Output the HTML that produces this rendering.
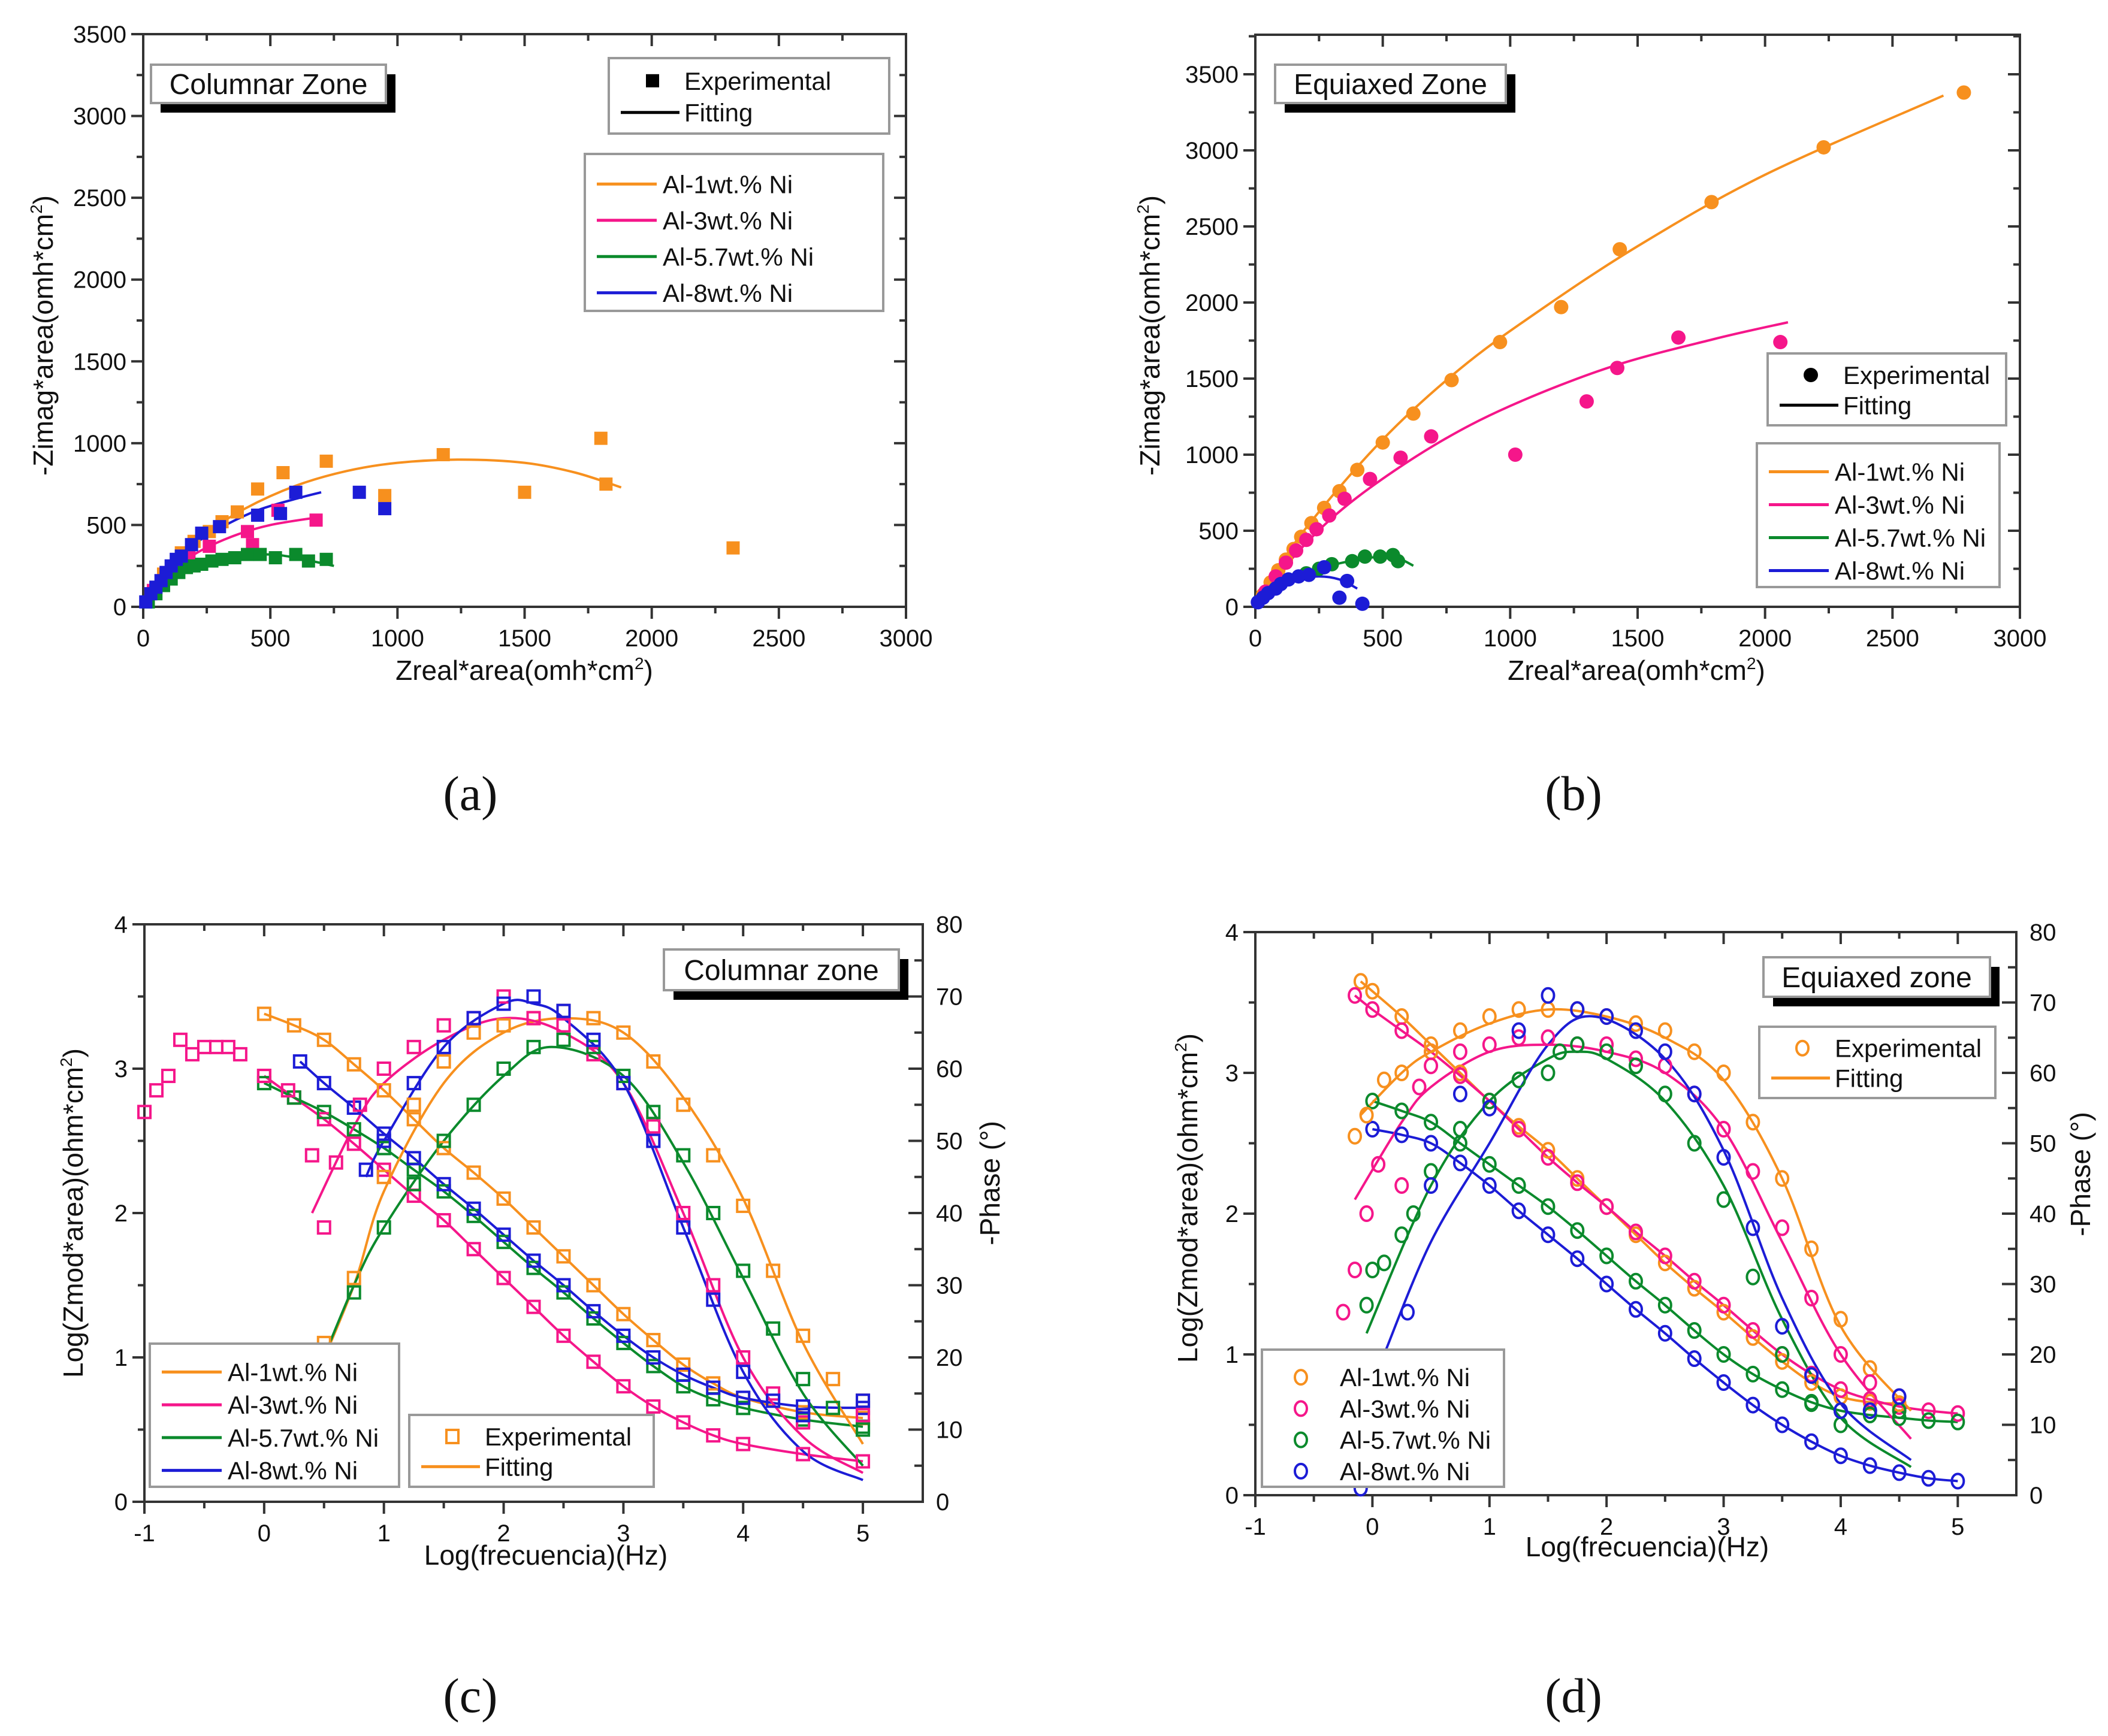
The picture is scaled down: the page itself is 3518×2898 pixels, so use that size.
<!DOCTYPE html>
<html><head><meta charset="utf-8"><title>EIS charts</title>
<style>
html,body{margin:0;padding:0;background:#fff;}
svg{display:block;}
text{font-family:"Liberation Sans",sans-serif;fill:#111;}
.cap{font-family:"Liberation Serif",serif;font-size:82px;}
</style></head>
<body>
<svg id="fig" width="3518" height="2898" viewBox="0 0 3518 2898" xmlns="http://www.w3.org/2000/svg">
<rect x="0" y="0" width="3518" height="2898" fill="#fff"/>
<g id="root"></g>
<text class="cap" x="785" y="1352" text-anchor="middle">(a)</text>
<text class="cap" x="2626" y="1352" text-anchor="middle">(b)</text>
<text class="cap" x="785" y="2858" text-anchor="middle">(c)</text>
<text class="cap" x="2626" y="2858" text-anchor="middle">(d)</text>
</svg>
<script>
const NS="http://www.w3.org/2000/svg";
const COLORS={o:"#f7901e",p:"#f5168a",g:"#0b8a2c",b:"#1c1cd6"};
const seriesNames=["Al-1wt.% Ni","Al-3wt.% Ni","Al-5.7wt.% Ni","Al-8wt.% Ni"];

// ---- Panel A (Nyquist, columnar) ----
const aOrangeExp=[[30,80],[80,200],[150,330],[200,400],[260,460],[310,520],[370,580],[450,720],[550,820],[720,890],[950,680],[1180,930],[1500,700],[1800,1030],[1820,750],[2320,360]];
const aOrangeFit=[[0,0],[100,250],[250,450],[400,600],[600,740],[800,830],[1000,880],[1250,900],[1500,880],[1700,820],[1880,730]];
const aPinkExp=[[40,100],[100,200],[180,300],[260,370],[410,460],[430,380],[530,590],[680,530]];
const aPinkFit=[[0,0],[100,200],[200,320],[350,430],[500,500],[700,550]];
const aGreenExp=[[20,30],[50,80],[80,130],[110,170],[140,210],[170,240],[200,250],[230,260],[270,280],[310,290],[360,300],[410,320],[460,320],[520,300],[600,320],[650,280],[720,290]];
const aGreenFit=[[20,0],[80,130],[150,210],[250,270],[400,310],[500,320],[600,300],[750,250]];
const aBlueExp=[[10,30],[30,80],[50,120],[70,160],[90,210],[110,250],[130,290],[150,310],[190,380],[230,450],[300,490],[450,560],[540,570],[600,700],[850,700],[950,600]];
const aBlueFit=[[0,0],[50,130],[100,230],[200,380],[300,480],[450,590],[600,660],[700,700]];
const aXTicks=[0,500,1000,1500,2000,2500,3000];
const aYTicks=[0,500,1000,1500,2000,2500,3000,3500];

// ---- Panel B (Nyquist, equiaxed) ----
const bOrangeExp=[[30,80],[60,160],[90,240],[120,310],[150,380],[180,460],[220,550],[270,650],[330,760],[400,900],[500,1080],[620,1270],[770,1490],[960,1740],[1200,1970],[1430,2350],[1790,2660],[2230,3020],[2780,3380]];
const bOrangeFit=[[0,30],[200,520],[500,1100],[800,1560],[1100,1930],[1500,2370],[2000,2840],[2700,3360]];
const bPinkExp=[[40,100],[80,200],[120,290],[160,370],[200,440],[240,510],[290,600],[350,710],[450,840],[570,980],[690,1120],[1020,1000],[1300,1350],[1420,1570],[1660,1770],[2060,1740]];
const bPinkFit=[[0,30],[200,420],[400,720],[700,1060],[1000,1320],[1400,1580],[1800,1760],[2090,1870]];
const bGreenExp=[[200,220],[250,250],[300,280],[380,300],[430,330],[490,330],[540,340],[560,300]];
const bGreenFit=[[100,150],[250,250],[400,310],[500,330],[560,320],[620,270]];
const bBlueExp=[[10,30],[30,60],[50,90],[80,120],[100,150],[130,180],[170,200],[210,210],[270,260],[360,170],[330,60],[420,20]];
const bBlueFit=[[0,30],[80,120],[150,180],[250,200],[330,180],[400,120]];
const bXTicks=[0,500,1000,1500,2000,2500,3000];
const bYTicks=[0,500,1000,1500,2000,2500,3000,3500];

// ---- Panel C (Bode, columnar) ----
const cOrangeMod=[[0,3.38],[0.25,3.3],[0.5,3.2],[0.75,3.03],[1,2.85],[1.25,2.65],[1.5,2.45],[1.75,2.28],[2,2.1],[2.25,1.9],[2.5,1.7],[2.75,1.5],[3,1.3],[3.25,1.12],[3.5,0.95],[3.75,0.82],[4,0.72],[4.5,0.62],[5,0.58]];
const cPinkMod=[[0,2.95],[0.25,2.8],[0.5,2.65],[0.75,2.48],[1,2.3],[1.25,2.12],[1.5,1.95],[1.75,1.75],[2,1.55],[2.25,1.35],[2.5,1.15],[2.75,0.97],[3,0.8],[3.25,0.66],[3.5,0.55],[3.75,0.46],[4,0.4],[4.5,0.33],[5,0.28]];
const cGreenMod=[[0,2.9],[0.25,2.8],[0.5,2.7],[0.75,2.58],[1,2.45],[1.25,2.3],[1.5,2.15],[1.75,1.98],[2,1.8],[2.25,1.62],[2.5,1.45],[2.75,1.27],[3,1.1],[3.25,0.94],[3.5,0.8],[3.75,0.71],[4,0.65],[4.5,0.57],[5,0.52]];
const cBlueMod=[[0.3,3.05],[0.5,2.9],[0.75,2.73],[1,2.55],[1.25,2.38],[1.5,2.2],[1.75,2.03],[2,1.85],[2.25,1.67],[2.5,1.5],[2.75,1.32],[3,1.15],[3.25,1.0],[3.5,0.88],[3.75,0.79],[4,0.72],[4.5,0.66],[5,0.65]];
const cOrangePh=[[0.5,22],[0.75,31],[1,45],[1.25,55],[1.5,61],[1.75,65],[2,66],[2.25,67],[2.5,68],[2.75,67],[3,65],[3.25,61],[3.5,55],[3.75,48],[4,41],[4.25,32],[4.5,23],[4.75,17],[5,14]];
const cPinkPh=[[-1,54],[-0.9,57],[-0.8,59],[-0.7,64],[-0.6,62],[-0.5,63],[-0.4,63],[-0.3,63],[-0.2,62],[0,59],[0.2,57],[0.4,48],[0.5,38],[0.6,47],[0.8,55],[1,60],[1.25,63],[1.5,66],[1.75,67],[2,70],[2.25,67],[2.5,66],[2.75,62],[3,58],[3.25,52],[3.5,40],[3.75,30],[4,20],[4.25,15],[4.5,11],[5,12]];
const cGreenPh=[[0.5,20],[0.75,29],[1,38],[1.25,44],[1.5,50],[1.75,55],[2,60],[2.25,63],[2.5,64],[2.75,63],[3,59],[3.25,54],[3.5,48],[3.75,40],[4,32],[4.25,24],[4.5,17],[4.75,13],[5,10]];
const cBluePh=[[0.85,46],[1,50],[1.25,58],[1.5,63],[1.75,67],[2,69],[2.25,70],[2.5,68],[2.75,64],[3,58],[3.25,50],[3.5,38],[3.75,28],[4,18],[4.25,14],[4.5,12],[5,14]];
const cOrangePhFit=[[0.4,16],[0.75,30],[1,43],[1.5,58],[2,65],[2.5,67],[3,65],[3.5,56],[4,42],[4.5,22],[5,8]];
const cPinkPhFit=[[0.4,40],[0.75,52],[1,58],[1.5,64],[2,67],[2.5,65],[3,58],[3.5,40],[4,20],[4.5,9],[5,4]];
const cGreenPhFit=[[0.4,16],[0.75,30],[1,38],[1.5,50],[2,59],[2.4,63],[3,59],[3.5,47],[4,31],[4.5,15],[5,5]];
const cBluePhFit=[[0.85,45],[1,50],[1.5,63],[2,69],[2.25,69],[2.5,67],[3,58],[3.5,38],[4,18],[4.5,7],[5,3]];
const cXTicks=[-1,0,1,2,3,4,5];
const cYTicks=[0,1,2,3,4];
const cY2Ticks=[0,10,20,30,40,50,60,70,80];

// ---- Panel D (Bode, equiaxed) ----
const dOrangeMod=[[-0.1,3.65],[0,3.58],[0.25,3.4],[0.5,3.2],[0.75,3.0],[1,2.8],[1.25,2.62],[1.5,2.45],[1.75,2.25],[2,2.05],[2.25,1.85],[2.5,1.65],[2.75,1.47],[3,1.3],[3.25,1.12],[3.5,0.95],[3.75,0.8],[4,0.7],[4.25,0.66],[4.5,0.65]];
const dPinkMod=[[-0.15,3.55],[0,3.45],[0.25,3.3],[0.5,3.15],[0.75,2.98],[1,2.8],[1.25,2.6],[1.5,2.4],[1.75,2.22],[2,2.05],[2.25,1.87],[2.5,1.7],[2.75,1.52],[3,1.35],[3.25,1.17],[3.5,1.0],[3.75,0.86],[4,0.75],[4.25,0.68],[4.5,0.63],[4.75,0.6],[5,0.58]];
const dGreenMod=[[0,2.8],[0.25,2.73],[0.5,2.65],[0.75,2.5],[1,2.35],[1.25,2.2],[1.5,2.05],[1.75,1.88],[2,1.7],[2.25,1.52],[2.5,1.35],[2.75,1.17],[3,1.0],[3.25,0.86],[3.5,0.75],[3.75,0.66],[4,0.6],[4.25,0.57],[4.5,0.55],[4.75,0.53],[5,0.52]];
const dBlueMod=[[0,2.6],[0.25,2.56],[0.5,2.5],[0.75,2.36],[1,2.2],[1.25,2.02],[1.5,1.85],[1.75,1.68],[2,1.5],[2.25,1.32],[2.5,1.15],[2.75,0.97],[3,0.8],[3.25,0.64],[3.5,0.5],[3.75,0.38],[4,0.28],[4.25,0.21],[4.5,0.16],[4.75,0.12],[5,0.1]];
const dOrangePh=[[-0.15,51],[-0.05,54],[0.1,59],[0.25,60],[0.5,63],[0.75,66],[1,68],[1.25,69],[1.5,69],[1.75,69],[2,68],[2.25,67],[2.5,66],[2.75,63],[3,60],[3.25,53],[3.5,45],[3.75,35],[4,25],[4.25,18],[4.5,13]];
const dPinkPh=[[-0.25,26],[-0.15,32],[-0.05,40],[0.05,47],[0.25,44],[0.4,58],[0.5,61],[0.75,63],[1,64],[1.25,65],[1.5,65],[1.75,64],[2,64],[2.25,62],[2.5,61],[2.75,57],[3,52],[3.25,46],[3.5,38],[3.75,28],[4,20],[4.25,16],[4.5,14]];
const dGreenPh=[[-0.05,27],[0,32],[0.1,33],[0.25,37],[0.35,40],[0.5,46],[0.75,52],[1,56],[1.25,59],[1.5,60],[1.6,63],[1.75,64],[2,63],[2.25,61],[2.5,57],[2.75,50],[3,42],[3.25,31],[3.5,20],[3.75,13],[4,10],[4.5,12]];
const dBluePh=[[-0.1,1],[0.3,26],[0.5,44],[0.75,57],[1,55],[1.25,66],[1.5,71],[1.75,69],[2,68],[2.25,66],[2.5,63],[2.75,57],[3,48],[3.25,38],[3.5,24],[3.75,17],[4,12],[4.25,12],[4.5,14]];
const dOrangePhFit=[[-0.1,54],[0.25,60],[0.5,63],[1,67],[1.5,69],[2,68],[2.5,65],[3,59],[3.5,45],[4,24],[4.6,12]];
const dPinkPhFit=[[-0.15,42],[0.25,53],[0.5,58],[1,63],[1.5,64],[2,63],[2.5,60],[3,52],[3.5,36],[4,20],[4.6,8]];
const dGreenPhFit=[[-0.05,23],[0.5,44],[1,56],[1.5,62],[1.75,63],[2,62],[2.5,56],[3,44],[3.5,25],[4,11],[4.6,4]];
const dBluePhFit=[[0.1,20],[0.5,36],[1,50],[1.5,64],[1.9,68],[2.5,62],[3,49],[3.5,28],[4,13],[4.6,5]];
const dXTicks=[-1,0,1,2,3,4,5];
const dYTicks=[0,1,2,3,4];
const dY2Ticks=[0,10,20,30,40,50,60,70,80];

const root=document.getElementById('root');
function mk(tag,attrs,parent){const e=document.createElementNS(NS,tag);for(const k in attrs)e.setAttribute(k,attrs[k]);(parent||root).appendChild(e);return e;}
function txt(s,attrs,parent){const e=mk('text',attrs,parent);e.textContent=s;return e;}
function smooth(pts){
  if(pts.length<2)return "";
  let d="M"+pts[0][0].toFixed(1)+","+pts[0][1].toFixed(1);
  for(let i=0;i<pts.length-1;i++){
    const p0=pts[Math.max(0,i-1)],p1=pts[i],p2=pts[i+1],p3=pts[Math.min(pts.length-1,i+2)];
    const c1=[p1[0]+(p2[0]-p0[0])/6,p1[1]+(p2[1]-p0[1])/6];
    const c2=[p2[0]-(p3[0]-p1[0])/6,p2[1]-(p3[1]-p1[1])/6];
    d+=" C"+c1[0].toFixed(1)+","+c1[1].toFixed(1)+" "+c2[0].toFixed(1)+","+c2[1].toFixed(1)+" "+p2[0].toFixed(1)+","+p2[1].toFixed(1);
  }
  return d;
}

function makeAxes(cfg){
  const g=mk('g',{});
  
  
  const sx=v=>cfg.x0+(v-cfg.xmin)/(cfg.xmax-cfg.xmin)*(cfg.x1-cfg.x0);
  const sy=v=>cfg.y0-(v-cfg.ymin)/(cfg.ymax-cfg.ymin)*(cfg.y0-cfg.y1);
  const sy2=cfg.y2max?(v=>cfg.y0-v/cfg.y2max*(cfg.y0-cfg.y1)):null;
  const frame=mk('rect',{x:cfg.x0,y:cfg.y1,width:cfg.x1-cfg.x0,height:cfg.y0-cfg.y1,fill:'none',stroke:'#333','stroke-width':4},g);
  
  
  const tk=mk('g',{stroke:'#333','stroke-width':4},g);
  
  
  const xs=cfg.xticks, ys=cfg.yticks;
  const xstep=xs[1]-xs[0], ystep=ys[1]-ys[0];
  for(let i=0;i<xs.length;i++){
    const v=xs[i];const X=sx(v);
    mk('line',{x1:X,y1:cfg.y0,x2:X,y2:cfg.y0+20},tk);
    mk('line',{x1:X,y1:cfg.y1,x2:X,y2:cfg.y1+20},tk);
    const m=v+xstep/2;
    if(m<cfg.xmax){const Xm=sx(m);mk('line',{x1:Xm,y1:cfg.y0,x2:Xm,y2:cfg.y0+11},tk);mk('line',{x1:Xm,y1:cfg.y1,x2:Xm,y2:cfg.y1+11},tk);}
    const t=txt(String(v),{x:X,y:cfg.y0+66,'font-size':40,'text-anchor':'middle'},g);
    
    
  }
  for(let i=0;i<ys.length;i++){
    const v=ys[i];const Y=sy(v);
    mk('line',{x1:cfg.x0,y1:Y,x2:cfg.x0-20,y2:Y},tk);
    if(!cfg.y2max)mk('line',{x1:cfg.x1,y1:Y,x2:cfg.x1-20,y2:Y},tk);
    const m=v+ystep/2;
    if(m<cfg.ymax){const Ym=sy(m);mk('line',{x1:cfg.x0,y1:Ym,x2:cfg.x0-11,y2:Ym},tk);if(!cfg.y2max)mk('line',{x1:cfg.x1,y1:Ym,x2:cfg.x1-11,y2:Ym},tk);}
    const t=txt(String(v),{x:cfg.x0-28,y:Y+14,'font-size':40,'text-anchor':'end'},g);
    
    
  }
  if(cfg.y2max){
    const y2=cfg.y2ticks;
    for(let i=0;i<y2.length;i++){
      const v=y2[i];const Y=sy2(v);
      mk('line',{x1:cfg.x1,y1:Y,x2:cfg.x1-24,y2:Y},tk);
      if(v+5<cfg.y2max){const Ym=sy2(v+5);mk('line',{x1:cfg.x1,y1:Ym,x2:cfg.x1-14,y2:Ym},tk);}
      const t=txt(String(v),{x:cfg.x1+22,y:Y+14,'font-size':40,'text-anchor':'start'},g);
      
      
    }
  }
  return {g,sx,sy,sy2};
}

function drawLine(ax,pts,color,yfn,name){
  const d=smooth(pts.map(p=>[ax.sx(p[0]),yfn(p[1])]));
  const e=mk('path',{d:d,fill:'none',stroke:color,'stroke-width':4},ax.g);
  
  
}
function drawPts(ax,pts,color,yfn,shape,name){
  const g=mk('g',{},ax.g);
  
  
  pts.forEach(p=>{
    const X=ax.sx(p[0]),Y=yfn(p[1]);
    if(shape==='fsq')mk('rect',{x:X-11,y:Y-11,width:22,height:22,fill:color},g);
    else if(shape==='fci')mk('circle',{cx:X,cy:Y,r:12,fill:color},g);
    else if(shape==='osq')mk('rect',{x:X-10,y:Y-10,width:20,height:20,fill:'none',stroke:color,'stroke-width':4},g);
    else mk('ellipse',{cx:X,cy:Y,rx:10,ry:12,fill:'none',stroke:color,'stroke-width':4},g);
  });
}
function box(g,x,y,w,h,name){
  const r=mk('rect',{x:x,y:y,width:w,height:h,fill:'#fff',stroke:'#999','stroke-width':4},g);
  
  
}
function zoneLabel(g,x,y,w,h,label,name){
  const s=mk('rect',{x:x+16,y:y+16,width:w,height:h,fill:'#000'},g);
  
  
  box(g,x,y,w,h,name);
  const t=txt(label,{x:x+w/2,y:y+h/2+17,'font-size':48,'text-anchor':'middle'},g);
  
  
}
function seriesLegend(g,x,y,w,h,shape,colors){
  box(g,x,y,w,h,'series-legend');
  const step=(h-20)/4;
  seriesNames.forEach((n,i)=>{
    const cy=y+20+step*(i+0.5);
    if(shape==='line'){
      const l=mk('line',{x1:x+20,y1:cy,x2:x+120,y2:cy,stroke:colors[i],'stroke-width':5},g);
      
      
    }else{
      const c=mk('ellipse',{cx:x+65,cy:cy,rx:10,ry:12,fill:'none',stroke:colors[i],'stroke-width':4},g);
      
      
    }
    const t=txt(n,{x:x+(shape==='line'?130:130),y:cy+15,'font-size':42},g);
    
    
  });
}
function expFitLegend(g,x,y,w,h,marker,color){
  box(g,x,y,w,h,'exp-fit-legend');
  const y1=y+h*0.3,y2=y+h*0.72;
  if(marker==='fsq')mk('rect',{x:x+62,y:y1-11,width:22,height:22,fill:color},g);
  else if(marker==='fci')mk('circle',{cx:x+72,cy:y1,r:12,fill:color},g);
  else if(marker==='osq')mk('rect',{x:x+62,y:y1-11,width:20,height:22,fill:'none',stroke:color,'stroke-width':4},g);
  else mk('ellipse',{cx:x+72,cy:y1,rx:10,ry:12,fill:'none',stroke:color,'stroke-width':4},g);
  mk('line',{x1:x+20,y1:y2,x2:x+118,y2:y2,stroke:color,'stroke-width':5},g);
  const t1=txt('Experimental',{x:x+126,y:y1+15,'font-size':42},g);
  
  
  const t2=txt('Fitting',{x:x+126,y:y2+15,'font-size':42},g);
  
  
}
function axisTitle(g,x,y,content,rot,name){
  const t=mk('text',{x:x,y:y,'font-size':46,'text-anchor':'middle',transform:rot?`rotate(-90 ${x} ${y})`:''},g);
  t.innerHTML=content;
  
  
}
const col=[COLORS.o,COLORS.p,COLORS.g,COLORS.b];

// Panel A
{
  const ax=makeAxes({name:'panel-a-nyquist-columnar',x0:239,x1:1512,y0:1013,y1:57,xmin:0,xmax:3000,ymin:0,ymax:3500,xticks:aXTicks,yticks:aYTicks});
  const fits=[aOrangeFit,aPinkFit,aGreenFit,aBlueFit],exps=[aOrangeExp,aPinkExp,aGreenExp,aBlueExp];
  fits.forEach((f,i)=>drawLine(ax,f,col[i],ax.sy,'fit-line-'+i));
  exps.forEach((e,i)=>drawPts(ax,e,col[i],ax.sy,'fsq','exp-points-'+i));
  zoneLabel(ax.g,252,108,392,64,'Columnar Zone','zone-label');
  expFitLegend(ax.g,1016,97,468,126,'fsq','#000');
  seriesLegend(ax.g,976,257,498,262,'line',col);
  axisTitle(ax.g,875,1135,'Zreal*area(omh*cm<tspan font-size="28" dy="-18">2</tspan><tspan dy="18">)</tspan>',false,'x-axis-title');
  axisTitle(ax.g,88,560,'-Zimag*area(omh*cm<tspan font-size="28" dy="-18">2</tspan><tspan dy="18">)</tspan>',true,'y-axis-title');
}
// Panel B
{
  const ax=makeAxes({name:'panel-b-nyquist-equiaxed',x0:2095,x1:3371,y0:1013,y1:58,xmin:0,xmax:3000,ymin:0,ymax:3760,xticks:bXTicks,yticks:bYTicks});
  const fits=[bOrangeFit,bPinkFit,bGreenFit,bBlueFit],exps=[bOrangeExp,bPinkExp,bGreenExp,bBlueExp];
  fits.forEach((f,i)=>drawLine(ax,f,col[i],ax.sy,'fit-line-'+i));
  exps.forEach((e,i)=>drawPts(ax,e,col[i],ax.sy,'fci','exp-points-'+i));
  zoneLabel(ax.g,2128,108,385,64,'Equiaxed Zone','zone-label');
  expFitLegend(ax.g,2950,590,398,120,'fci','#000');
  seriesLegend(ax.g,2932,740,405,240,'line',col);
  axisTitle(ax.g,2731,1135,'Zreal*area(omh*cm<tspan font-size="28" dy="-18">2</tspan><tspan dy="18">)</tspan>',false,'x-axis-title');
  axisTitle(ax.g,1935,560,'-Zimag*area(omh*cm<tspan font-size="28" dy="-18">2</tspan><tspan dy="18">)</tspan>',true,'y-axis-title');
}
// Panel C
{
  const ax=makeAxes({name:'panel-c-bode-columnar',x0:241,x1:1540,y0:2507,y1:1543,xmin:-1,xmax:5.5,ymin:0,ymax:4,xticks:cXTicks,yticks:cYTicks,y2max:80,y2ticks:cY2Ticks});
  const mods=[cOrangeMod,cPinkMod,cGreenMod,cBlueMod],phs=[cOrangePh,cPinkPh,cGreenPh,cBluePh],phf=[cOrangePhFit,cPinkPhFit,cGreenPhFit,cBluePhFit];
  mods.forEach((m,i)=>drawLine(ax,m,col[i],ax.sy,'modulus-fit-'+i));
  phf.forEach((m,i)=>drawLine(ax,m,col[i],ax.sy2,'phase-fit-'+i));
  mods.forEach((m,i)=>drawPts(ax,m,col[i],ax.sy,'osq','modulus-exp-'+i));
  phs.forEach((m,i)=>drawPts(ax,m,col[i],ax.sy2,'osq','phase-exp-'+i));
  zoneLabel(ax.g,1108,1585,392,68,'Columnar zone','zone-label');
  seriesLegend(ax.g,250,2243,416,239,'line',col);
  expFitLegend(ax.g,683,2362,408,120,'osq',COLORS.o);
  axisTitle(ax.g,911,2612,'Log(frecuencia)(Hz)',false,'x-axis-title');
  axisTitle(ax.g,138,2025,'Log(Zmod*area)(ohm*cm<tspan font-size="28" dy="-18">2</tspan><tspan dy="18">)</tspan>',true,'y-axis-title');
  axisTitle(ax.g,1668,1975,'-Phase (°)',true,'y2-axis-title');
}
// Panel D
{
  const ax=makeAxes({name:'panel-d-bode-equiaxed',x0:2095,x1:3365,y0:2496,y1:1556,xmin:-1,xmax:5.5,ymin:0,ymax:4,xticks:dXTicks,yticks:dYTicks,y2max:80,y2ticks:dY2Ticks});
  const mods=[dOrangeMod,dPinkMod,dGreenMod,dBlueMod],phs=[dOrangePh,dPinkPh,dGreenPh,dBluePh],phf=[dOrangePhFit,dPinkPhFit,dGreenPhFit,dBluePhFit];
  mods.forEach((m,i)=>drawLine(ax,m,col[i],ax.sy,'modulus-fit-'+i));
  phf.forEach((m,i)=>drawLine(ax,m,col[i],ax.sy2,'phase-fit-'+i));
  mods.forEach((m,i)=>drawPts(ax,m,col[i],ax.sy,'oci','modulus-exp-'+i));
  phs.forEach((m,i)=>drawPts(ax,m,col[i],ax.sy2,'oci','phase-exp-'+i));
  zoneLabel(ax.g,2943,1598,378,66,'Equiaxed zone','zone-label');
  expFitLegend(ax.g,2936,1714,394,119,'oci',COLORS.o);
  seriesLegend(ax.g,2106,2253,404,229,'circle',col);
  axisTitle(ax.g,2749,2598,'Log(frecuencia)(Hz)',false,'x-axis-title');
  axisTitle(ax.g,1998,2000,'Log(Zmod*area)(ohm*cm<tspan font-size="28" dy="-18">2</tspan><tspan dy="18">)</tspan>',true,'y-axis-title');
  axisTitle(ax.g,3488,1960,'-Phase (°)',true,'y2-axis-title');
}
</script>
</body></html>
